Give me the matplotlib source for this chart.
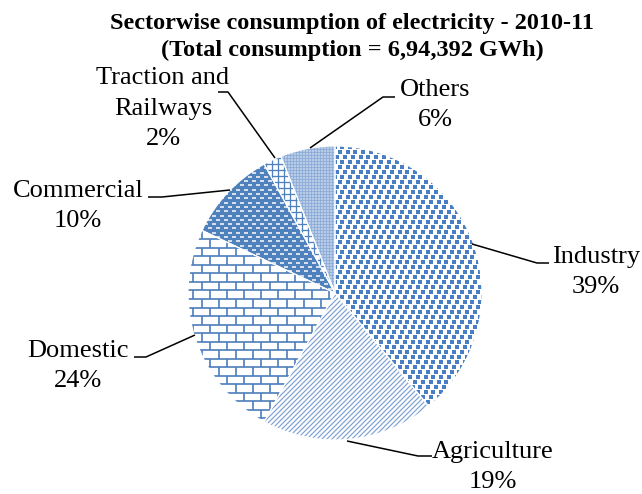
import numpy as np
import matplotlib
matplotlib.use("Agg")
import matplotlib.pyplot as plt
from matplotlib.collections import LineCollection

# sector shares of electricity consumption, 2010-11 (%)
sectors = ["Industry", "Agriculture", "Domestic", "Commercial", "Traction and\nRailways", "Others"]
shares = [39, 19, 24, 10, 2, 6]
title = "Sectorwise consumption of electricity - 2010-11\n(Total consumption = 6,94,392 GWh)"

W, H = 642, 494
BLUE = "#4F81BD"
SERIF = "Liberation Serif"

fig = plt.figure(figsize=(W / 100, H / 100), dpi=100)
ax = fig.add_axes([0, 0, 1, 1])

cx, cy, r = 335, H - 293, 147
wedges, _ = ax.pie(shares, startangle=90, counterclock=False, center=(cx, cy), radius=r,
                   wedgeprops=dict(facecolor="white", edgecolor="none"))
ax.set_xlim(0, W)
ax.set_ylim(0, H)
ax.set_aspect("equal")
ax.axis("off")

px = 0.72  # one pixel in points
x0, x1, y0, y1 = cx - r - 12, cx + r + 12, cy - r - 12, cy + r + 12


def add_clipped(coll, wedge):
    coll.set_clip_path(wedge)
    coll.set_zorder(2)
    ax.add_collection(coll)


def segs_lines(segs, wedge, color, lw):
    add_clipped(LineCollection(segs, colors=color, linewidths=lw * px, capstyle="butt"), wedge)


# Industry: staggered small squares
w = wedges[0]
pts = []
for i, y in enumerate(np.arange(y0, y1, 5.0)):
    for x in np.arange(x0 + (i % 3) * 2.6, x1, 7.8):
        pts.append((x, y))
pts = np.array(pts)
sc = ax.scatter(pts[:, 0], pts[:, 1], marker="s", s=(3.2 * px) ** 2, c="#4A7EC4", linewidths=0)
sc.set_clip_path(w)
sc.set_zorder(2)

# Agriculture: fine forward diagonals
w = wedges[1]
segs = [[(x0, x0 + c), (x1, x1 + c)] for c in np.arange(y0 - x1, y1 - x0, 5.0)]
segs_lines(segs, w, "#7FA3D4", 1.2)

# Domestic: brick wall
w = wedges[2]
rows = np.arange(y0, y1, 8.5)
segs = [[(x0, y), (x1, y)] for y in rows]
for i, y in enumerate(rows[:-1]):
    for x in np.arange(x0 + (i % 2) * 8.5, x1, 17.0):
        segs.append([(x, y), (x, y + 8.5)])
segs_lines(segs, w, BLUE, 1.7)

# Commercial: solid blue with white dashes
w = wedges[3]
w.set_facecolor(BLUE)
segs = []
for i, y in enumerate(np.arange(y0, y1, 4.3)):
    for x in np.arange(x0 + (i % 2) * 4, x1, 8.0):
        segs.append([(x, y), (x + 4, y)])
segs_lines(segs, w, "white", 1.5)

# Traction and Railways: square grid
w = wedges[4]
segs = [[(x, y0), (x, y1)] for x in np.arange(x0, x1, 6.0)]
segs += [[(x0, y), (x1, y)] for y in np.arange(y0, y1, 6.0)]
segs_lines(segs, w, BLUE, 1.3)

# Others: fine check, light blue
w = wedges[5]
w.set_facecolor("#b8cce8")
segs = [[(x, y0), (x, y1)] for x in np.arange(x0, x1, 3.0)]
segs += [[(x0, y), (x1, y)] for y in np.arange(y0, y1, 3.0)]
segs_lines(segs, w, "#86a7d5", 0.7)

# thin white borders between slices
ax.pie(shares, startangle=90, counterclock=False, center=(cx, cy), radius=r,
       wedgeprops=dict(fill=False, edgecolor="white", linewidth=0.8, zorder=3))
ax.set_xlim(0, W)
ax.set_ylim(0, H)

# label positions and leader lines, in pixels from the top-left
label_pos = [(596, 272), (493, 467), (78, 366), (78, 206), (163, 109), (435, 105)]
leaders = [
    [(472, 244), (537, 263), (549, 263)],
    [(347, 441), (418, 456), (432, 456)],
    [(195, 335), (146, 357), (134, 357)],
    [(230, 190), (162, 197), (148, 197)],
    [(275, 158), (228, 92), (218, 92)],
    [(310, 148), (383, 97), (395, 97)],
]

for name, v, (lx, ly), line in zip(sectors, shares, label_pos, leaders):
    xs = [p[0] for p in line]
    ys = [H - p[1] for p in line]
    ax.plot(xs, ys, color="black", lw=1.1, zorder=4, solid_capstyle="butt")
    ax.text(lx, H - ly, f"{name}\n{v}%", ha="center", va="center", ma="center",
            fontsize=19, family=SERIF, linespacing=1.5)

ax.text(352, H - 37, title, ha="center", va="center", ma="center",
        fontsize=17.5, fontweight="bold", family=SERIF, linespacing=1.3)

fig.savefig("out.png", dpi=100)
